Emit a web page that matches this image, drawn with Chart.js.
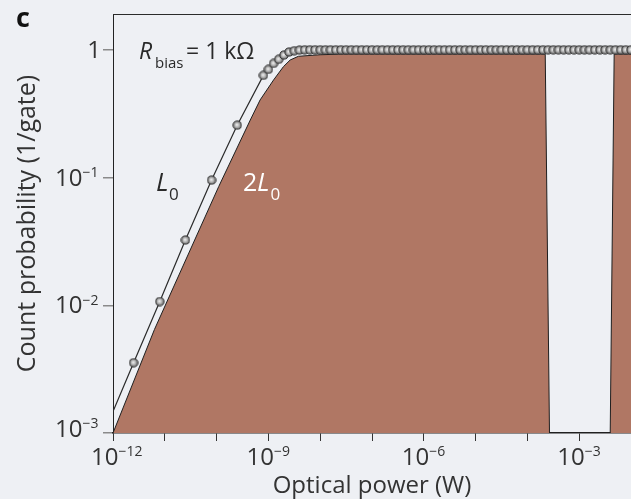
<!DOCTYPE html>
<html>
<head>
<meta charset="utf-8">
<script src="https://cdn.jsdelivr.net/npm/chart.js@4/dist/chart.umd.min.js"></script>
<style>
  html, body { margin: 0; padding: 0; background: #eef0f4; }
  #c { display: block; }
</style>
</head>
<body>
<canvas id="c" width="631" height="499"></canvas>
<script>
// ---------------- data ----------------
// L0 measured points: optical power (W) and count probability (1/gate)
const l0Power = [
  2.5e-12, 8e-12, 2.5e-11, 8e-11, 2.5e-10, 8e-10,
  1e-9, 1.26e-9, 1.58e-9, 2e-9, 2.51e-9, 3.16e-9, 3.98e-9, 5.01e-9, 6.31e-9, 7.94e-9,
  1e-8, 1.26e-8, 1.58e-8, 2e-8, 2.51e-8, 3.16e-8, 3.98e-8, 5.01e-8, 6.31e-8, 7.94e-8,
  1e-7, 1.26e-7, 1.58e-7, 2e-7, 2.51e-7, 3.16e-7, 3.98e-7, 5.01e-7, 6.31e-7, 7.94e-7,
  1e-6, 1.26e-6, 1.58e-6, 2e-6, 2.51e-6, 3.16e-6, 3.98e-6, 5.01e-6, 6.31e-6, 7.94e-6,
  1e-5, 1.26e-5, 1.58e-5, 2e-5, 2.51e-5, 3.16e-5, 3.98e-5, 5.01e-5, 6.31e-5, 7.94e-5,
  1e-4, 1.26e-4, 1.58e-4, 2e-4, 2.51e-4, 3.16e-4, 3.98e-4, 5.01e-4, 6.31e-4, 7.94e-4,
  1e-3, 1.26e-3, 1.58e-3, 2e-3, 2.51e-3, 3.16e-3, 3.98e-3, 5.01e-3, 6.31e-3, 7.94e-3,
  1e-2
];
const l0Prob = [
  0.00355, 0.0107, 0.0324, 0.0955, 0.257, 0.631,
  0.703, 0.783, 0.843, 0.910, 0.962, 0.984, 0.995, 1, 1, 1,
  1, 1, 1, 1, 1, 1, 1, 1, 1, 1,
  1, 1, 1, 1, 1, 1, 1, 1, 1, 1,
  1, 1, 1, 1, 1, 1, 1, 1, 1, 1,
  1, 1, 1, 1, 1, 1, 1, 1, 1, 1,
  1, 1, 1, 1, 1, 1, 1, 1, 1, 1,
  1, 1, 1, 1, 1, 1, 1, 1, 1, 1,
  1
];
// start of the L0 curve at the left edge of the plot
const l0StartPower = [1e-12];
const l0StartProb = [0.00147];

// 2L0 region (filled)
const twoL0Power = [1e-12, 6.31e-12, 1.1e-10, 4.47e-10, 6.92e-10, 1.26e-9, 1.95e-9, 2.63e-9, 3.8e-9, 1e-8, 2.5e-8, 2.21e-4, 2.67e-4, 3.97e-3, 4.73e-3, 1e-2];
const twoL0Prob  = [1e-3, 6.46e-3, 0.0851, 0.282, 0.405, 0.581, 0.738, 0.832, 0.89, 0.915, 0.925, 0.925, 1e-3, 1e-3, 0.925, 0.925];

// axis ticks
const xTickValues = [1e-12, 1e-11, 1e-10, 1e-9, 1e-8, 1e-7, 1e-6, 1e-5, 1e-4, 1e-3, 1e-2];
const xLabelValues = [1e-12, 1e-9, 1e-6, 1e-3];
const xLabelExps = ['−12', '−9', '−6', '−3'];
const yTickValues = [1e-3, 1e-2, 1e-1, 1];
const yLabelExps = ['−3', '−2', '−1', ''];

// ---------------- styling ----------------
const BG = '#eef0f4';
const BROWN = '#b07764';
const TXT = '#333333';
const FONT = '"Open Sans", "Noto Sans", sans-serif';

function makeBall() {
  const c = document.createElement('canvas');
  c.width = 10; c.height = 10;
  const g = c.getContext('2d');
  const grad = g.createRadialGradient(4.6, 4.6, 0.3, 5, 5, 4.6);
  grad.addColorStop(0, '#ededed');
  grad.addColorStop(0.45, '#b4b4b4');
  grad.addColorStop(1, '#5e5e5e');
  g.fillStyle = grad;
  g.beginPath(); g.arc(5, 5, 4.1, 0, Math.PI * 2); g.fill();
  g.strokeStyle = '#333333'; g.lineWidth = 1; g.stroke();
  return c;
}
const ball = makeBall();

const dots = l0Power.map((p, i) => ({ x: p, y: l0Prob[i] }));
const l0Line = l0StartPower.map((p, i) => ({ x: p, y: l0StartProb[i] })).concat(dots);
const twoL0 = twoL0Power.map((p, i) => ({ x: p, y: twoL0Prob[i] }));

function drawPow(ctx, base, exp, x, baseline, mode, baseSize, expSize, expDrop) {
  ctx.font = baseSize + 'px ' + FONT;
  const bw = ctx.measureText(base).width;
  const bx = (mode === 'splitAt') ? x - bw : x;
  ctx.textAlign = 'left';
  ctx.textBaseline = 'alphabetic';
  ctx.fillText(base, bx, baseline);
  if (exp) {
    ctx.font = expSize + 'px ' + FONT;
    ctx.fillText(exp, bx + bw, baseline - expDrop);
  }
}

const textPlugin = {
  id: 'texts',
  beforeDraw(chart) {
    const c = chart.ctx;
    c.save();
    c.fillStyle = BG;
    c.fillRect(0, 0, chart.width, chart.height);
    c.restore();
  },
  afterDraw(chart) {
    const ctx = chart.ctx, xs = chart.scales.x, ys = chart.scales.y, ca = chart.chartArea;
    ctx.save();
    // top frame line
    ctx.strokeStyle = '#2b2b2b';
    ctx.lineWidth = 1;
    ctx.beginPath();
    ctx.moveTo(ca.left, Math.round(ca.top) + 0.5);
    ctx.lineTo(ca.right, Math.round(ca.top) + 0.5);
    ctx.stroke();

    ctx.fillStyle = TXT;
    // x tick labels
    xLabelValues.forEach((v, i) => {
      const px = xs.getPixelForValue(v);
      drawPow(ctx, '10', xLabelExps[i], px + 5.5, 464.5, 'splitAt', 24, 14, 8.5);
    });
    // y tick labels
    yTickValues.forEach((v, i) => {
      const py = ys.getPixelForValue(v);
      if (!yLabelExps[i]) {
        ctx.font = '24px ' + FONT;
        ctx.textAlign = 'right';
        ctx.textBaseline = 'alphabetic';
        ctx.fillText('1', 101, py + 8);
      } else {
        const off = (v === 1e-3) ? 3.5 : 8;
        drawPow(ctx, '10', yLabelExps[i], 55, py + off, 'start', 24, 14, 8.5);
      }
    });

    // panel letter
    ctx.fillStyle = '#111';
    ctx.font = 'bold 27px ' + FONT;
    ctx.textAlign = 'left';
    ctx.fillText('c', 16, 27);

    // R_bias = 1 kΩ
    ctx.fillStyle = '#2a2a2a';
    ctx.font = 'italic 23px ' + FONT;
    ctx.fillText('R', 139, 59);
    ctx.font = '15px ' + FONT;
    ctx.fillText('bias', 155, 67.5);
    ctx.font = '23px ' + FONT;
    ctx.fillText('= 1 kΩ', 186, 59);

    // L0 label
    ctx.font = 'italic 26px ' + FONT;
    ctx.fillText('L', 156, 191);
    ctx.font = '17px ' + FONT;
    ctx.fillText('0', 169, 200);

    // 2L0 label (white)
    ctx.fillStyle = '#ffffff';
    ctx.font = '25px ' + FONT;
    ctx.fillText('2', 243, 191);
    ctx.font = 'italic 26px ' + FONT;
    ctx.fillText('L', 257, 191);
    ctx.font = '17px ' + FONT;
    ctx.fillText('0', 270.5, 200);
    ctx.restore();
  }
};

new Chart(document.getElementById('c'), {
  type: 'line',
  data: {
    datasets: [
      { label: 'L0 data', data: dots, showLine: false, pointStyle: ball, pointRadius: 4, order: 1, clip: false },
      { label: 'L0', data: l0Line, borderColor: '#2a2a2a', borderWidth: 1.2, pointRadius: 0, fill: false, tension: 0, order: 2 },
      { label: '2L0', data: twoL0, borderColor: '#1f1f1f', borderWidth: 1, backgroundColor: BROWN, fill: 'start', pointRadius: 0, tension: 0, order: 3 }
    ]
  },
  options: {
    responsive: false,
    animation: false,
    devicePixelRatio: 1,
    layout: { autoPadding: false, padding: { top: 14, left: 0, right: 0, bottom: 0 } },
    plugins: { legend: { display: false }, tooltip: { enabled: false } },
    scales: {
      x: {
        type: 'logarithmic', position: 'bottom', min: 1e-12, max: 1e-2, bounds: 'data',
        ticks: { display: false },
        grid: { drawOnChartArea: false, drawTicks: true, tickLength: 8, color: '#333', lineWidth: 1 },
        border: { display: true, color: '#222', width: 1.5 },
        title: { display: true, text: 'Optical power (W)', color: TXT, font: { family: FONT, size: 24, lineHeight: 1 }, padding: { top: 0, bottom: 1 } },
        afterFit(s) { s.height = 66; },
        afterBuildTicks(s) { s.ticks = xTickValues.map(v => ({ value: v })); }
      },
      y: {
        type: 'logarithmic', position: 'left', min: 1e-3, max: 1.907, bounds: 'data',
        ticks: { display: false },
        grid: { drawOnChartArea: false, drawTicks: true, tickLength: 10, color: '#8a8a8a', lineWidth: 1.5 },
        border: { display: true, color: '#222', width: 1 },
        title: { display: true, text: 'Count probability (1/gate)', color: TXT, font: { family: FONT, size: 25, lineHeight: 1 }, padding: { top: 15, bottom: 0 } },
        afterFit(s) { s.width = 113; },
        afterBuildTicks(s) { s.ticks = yTickValues.map(v => ({ value: v })); }
      }
    }
  },
  plugins: [textPlugin]
});
</script>
</body>
</html>
